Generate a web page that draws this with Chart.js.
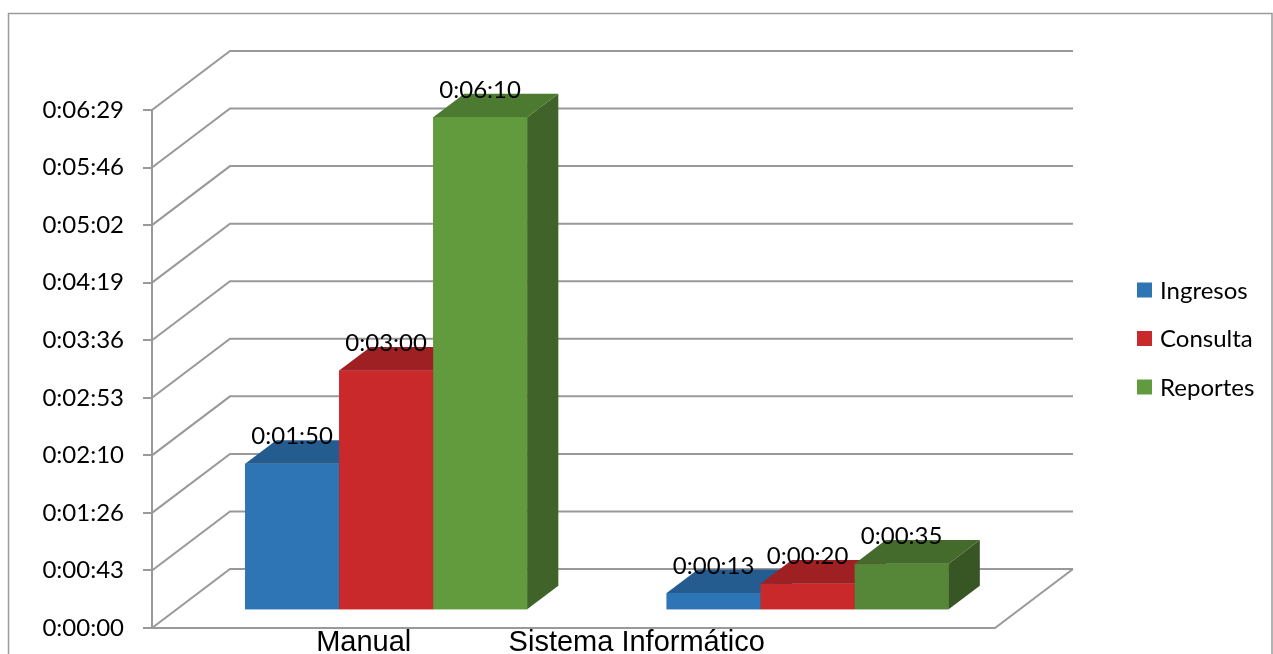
<!DOCTYPE html>
<html><head><meta charset="utf-8">
<script src="https://cdn.jsdelivr.net/npm/chart.js@4/dist/chart.umd.min.js"></script>
<style>html,body{margin:0;padding:0;background:#fff;overflow:hidden}#wrap{width:1273px;height:654px;position:relative}canvas{display:block}</style>
</head><body><div id="wrap"><canvas id="c" width="1273" height="654"></canvas></div>
<script>
// ---- data (values in seconds) ----
const categories = ['Manual', 'Sistema Informático'];
const seriesNames = ['Ingresos', 'Consulta', 'Reportes'];
const ingresos = [110, 13];
const consulta = [180, 20];
const reportes = [370, 35];
const yTickLabels = ['0:00:00','0:00:43','0:01:26','0:02:10','0:02:53','0:03:36','0:04:19','0:05:02','0:05:46','0:06:29'];
const yStep = 43.2;
const yMax = 388.8;

// ---- styles ----
const colIngresos = ['#2E75B6', '#2E75B6'];
const colConsulta = ['#C9292B', '#C9292B'];
const colReportes = ['#629B3E', '#568638'];
const GRID = '#999999';
const DEPTH = {x: 78, y: -59};
const FRONT = 0.3, BAR_D = 0.4;
const TXT_FONT = 'Lato, "Open Sans", sans-serif';

function fmt(sec) {
  const s = Math.round(sec);
  const h = Math.floor(s / 3600), m = Math.floor((s % 3600) / 60), r = s % 60;
  return h + ':' + String(m).padStart(2, '0') + ':' + String(r).padStart(2, '0');
}
function shade(hex, f) {
  const n = parseInt(hex.slice(1), 16);
  const r = Math.round(((n >> 16) & 255) * f), g = Math.round(((n >> 8) & 255) * f), b = Math.round((n & 255) * f);
  return 'rgb(' + r + ',' + g + ',' + b + ')';
}
function poly(ctx, pts) {
  ctx.beginPath(); ctx.moveTo(pts[0][0], pts[0][1]);
  for (let i = 1; i < pts.length; i++) ctx.lineTo(pts[i][0], pts[i][1]);
  ctx.closePath(); ctx.fill();
}

const threeD = {
  id: 'threeD',
  beforeDraw(chart) {
    const ctx = chart.ctx;
    ctx.save();
    ctx.fillStyle = '#fff'; ctx.fillRect(0, 0, chart.width, chart.height);
    ctx.strokeStyle = '#9a9a9a'; ctx.lineWidth = 1.5;
    ctx.strokeRect(8.5, 13.5, chart.width - 9.5, chart.height + 20);
    ctx.restore();
  },
  beforeDatasetsDraw(chart) {
    const {ctx, chartArea: a, scales: {y}} = chart;
    ctx.save();
    ctx.strokeStyle = GRID; ctx.lineWidth = 2; ctx.lineJoin = 'miter';
    y.ticks.forEach((t, i) => {
      const py = y.getPixelForTick(i);
      ctx.beginPath();
      ctx.moveTo(a.left, py);
      ctx.lineTo(a.left + DEPTH.x, py + DEPTH.y);
      ctx.lineTo(a.right + DEPTH.x, py + DEPTH.y);
      ctx.stroke();
    });
    ctx.beginPath();
    ctx.moveTo(a.left, a.bottom);
    ctx.lineTo(a.right, a.bottom);
    ctx.lineTo(a.right + DEPTH.x, a.bottom + DEPTH.y);
    ctx.stroke();
    ctx.restore();
    ctx.save();
    ctx.translate(DEPTH.x * FRONT, DEPTH.y * FRONT);
  },
  afterDatasetsDraw(chart) {
    const ctx = chart.ctx;
    const bx = DEPTH.x * BAR_D, by = DEPTH.y * BAR_D;
    // redraw bars in series order so later series cover earlier side faces
    chart.data.datasets.forEach((ds, di) => {
      chart.getDatasetMeta(di).data.forEach((el, i) => {
        el.draw(ctx);
        const p = el.getProps(['x', 'y', 'base', 'width'], true);
        const x0 = p.x - p.width / 2, x1 = p.x + p.width / 2;
        const col = ds.backgroundColor[i];
        ctx.fillStyle = shade(col, 0.64);
        poly(ctx, [[x1, p.y], [x1 + bx, p.y + by], [x1 + bx, p.base + by], [x1, p.base]]);
        ctx.fillStyle = shade(col, 0.79);
        poly(ctx, [[x0, p.y], [x1, p.y], [x1 + bx, p.y + by], [x0 + bx, p.y + by]]);
      });
    });
    ctx.font = '24px ' + TXT_FONT;
    ctx.fillStyle = '#000';
    ctx.textAlign = 'center'; ctx.textBaseline = 'middle';
    chart.data.datasets.forEach((ds, di) => {
      chart.getDatasetMeta(di).data.forEach((el, i) => {
        const p = el.getProps(['x', 'y'], true);
        ctx.fillText(fmt(ds.data[i]), p.x, p.y - 27);
      });
    });
    ctx.restore();
  },
  afterDraw(chart) {
    const ctx = chart.ctx;
    const x = chart.scales.x;
    const cw = x.getPixelForValue(1) - x.getPixelForValue(0);
    ctx.save();
    ctx.font = '29px "Liberation Sans", Arial, sans-serif';
    ctx.fillStyle = '#000'; ctx.textAlign = 'center'; ctx.textBaseline = 'alphabetic';
    ctx.fillText(categories[0], x.getPixelForValue(0) + 1, 651);
    ctx.fillText(categories[1], x.getPixelForValue(1) - 0.35 * cw, 651);
    // legend
    ctx.font = '24px ' + TXT_FONT;
    ctx.textAlign = 'left'; ctx.textBaseline = 'middle';
    chart.data.datasets.forEach((ds, i) => {
      const cy = 290 + i * 48.5;
      ctx.fillStyle = ds.backgroundColor[0];
      ctx.fillRect(1137, cy - 7.5, 15, 15);
      ctx.fillStyle = '#000';
      ctx.fillText(ds.label, 1160, cy + 1);
    });
    ctx.restore();
  }
};

function build() {
  new Chart(document.getElementById('c'), {
    type: 'bar',
    data: {
      labels: categories,
      datasets: [
        {label: seriesNames[0], data: ingresos, backgroundColor: colIngresos},
        {label: seriesNames[1], data: consulta, backgroundColor: colConsulta},
        {label: seriesNames[2], data: reportes, backgroundColor: colReportes}
      ]
    },
    options: {
      responsive: false,
      animation: false,
      devicePixelRatio: 1,
      layout: {padding: {left: 0, right: 278, top: 110, bottom: 26}},
      datasets: {bar: {categoryPercentage: 0.669, barPercentage: 1, borderWidth: 0, clip: false}},
      plugins: {legend: {display: false}, tooltip: {enabled: false}},
      scales: {
        x: {display: false, offset: true},
        y: {
          min: 0, max: yMax,
          afterFit(s) { s.width = 152; s.paddingTop = 0; s.paddingBottom = 0; },
          ticks: {
            stepSize: yStep,
            padding: 19,
            color: '#000',
            font: {family: TXT_FONT, size: 24},
            callback: (v, i) => yTickLabels[i] !== undefined ? yTickLabels[i] : fmt(v)
          },
          grid: {drawOnChartArea: false, drawTicks: true, tickLength: 9, color: GRID, lineWidth: 2},
          border: {display: true, color: GRID, width: 2}
        }
      }
    },
    plugins: [threeD]
  });
}
const fontsReady = Promise.all([
  document.fonts.load('24px Lato'), document.fonts.load('29px "Liberation Sans"')
]).catch(() => {});
Promise.race([fontsReady, new Promise(r => setTimeout(r, 1500))]).then(build);
</script>
</body></html>
